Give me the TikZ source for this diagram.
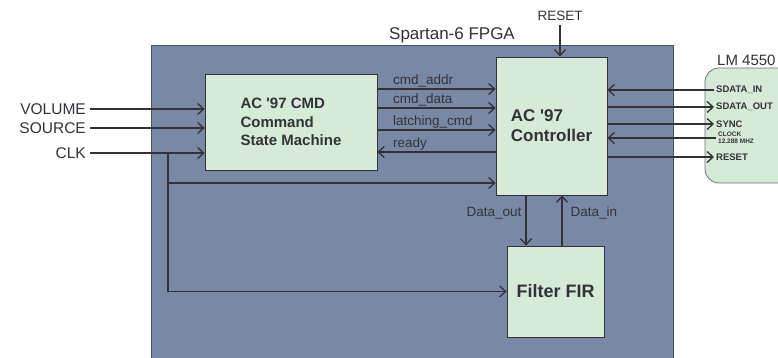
\documentclass[tikz,border=0pt]{standalone}
\usepackage{fontspec}
\setmainfont{Liberation Sans}
\usetikzlibrary{arrows.meta}
\definecolor{fpgablue}{RGB}{120,137,166}
\definecolor{fpgaedge}{RGB}{72,82,102}
\definecolor{blockgreen}{RGB}{214,234,216}
\definecolor{inkgray}{RGB}{50,50,56}
\newcommand{\blocklabel}[3]{#1 \\ #2 \\ #3}
\newcommand{\pinlabel}[2]{#1 \\ #2}

\begin{document}
\begin{tikzpicture}[x = 1pt, y = -1pt, every node/.style = {inner sep = 0pt, text = inkgray},
	block/.style = {rectangle, draw = inkgray, line width = 0.8pt, fill = blockgreen},
	sig/.style = {draw = inkgray, line width = 1.3pt, -{Straight Barb[length = 6pt, width = 11pt]}},
	siglabel/.style = {font = \fontsize{13.5}{15}\selectfont},
	inlabel/.style = {anchor = east, font = \fontsize{15.5}{17}\selectfont},
	pin/.style = {anchor = west, inner sep = 2pt, font = \fontsize{9.5}{10}\selectfont\bfseries}]

	\useasboundingbox (0, 0) rectangle (778, 358);
	\clip (0, 0) rectangle (778, 358);

	\node (fpga) at (412, 203) [rectangle, draw = fpgaedge, line width = 0.8pt, fill = fpgablue, minimum width = 522pt, minimum height = 316pt] {};
	\node (fpganame) at (452, 35) [font = \fontsize{17}{19}\selectfont] {Spartan-6 FPGA};
	\node (cmd)  at (291, 122) [block, minimum width = 172pt, minimum height = 96pt, align = left, font = \fontsize{15}{18.5}\selectfont\bfseries] {\blocklabel{AC \textquotesingle 97 CMD}{Command}{State Machine}};
	\node (ctrl) at (551.5, 126) [block, minimum width = 111pt, minimum height = 138pt, align = left, font = \fontsize{17}{20}\selectfont\bfseries] {AC \textquotesingle 97 \\ Controller};
	\node (fir)  at (555.5, 291.5) [block, minimum width = 97pt, minimum height = 91pt, font = \fontsize{18}{20}\selectfont\bfseries] {Filter FIR};
	\node (lm)   at (750, 125.5) [block, draw = inkgray!70, rounded corners = 14pt, minimum width = 90pt, minimum height = 115pt] {};
	\node (lmname) at (717, 60) [anchor = west, font = \fontsize{15}{17}\selectfont] {LM 4550};

	\node (volume) at (86, 109) [inlabel] {VOLUME};
	\node (source) at (86, 128) [inlabel] {SOURCE};
	\node (clk)    at (86, 153) [inlabel] {CLK};
	\node (rstin)  at (560, 16) [font = \fontsize{13.5}{15}\selectfont] {RESET};

	\node (sdin)  at (714, 90)  [pin] {SDATA\_IN};
	\node (sdout) at (714, 107) [pin] {SDATA\_OUT};
	\node (sync)  at (714, 124) [pin] {SYNC};
	\node (clock) at (716, 138) [pin, align = left, font = \fontsize{6.5}{7}\selectfont\bfseries] {\pinlabel{CLOCK}{12.288 MHZ}};
	\node (rst)   at (714, 157) [pin] {RESET};

	\coordinate (rowa) at (0, 89);
	\coordinate (rowb) at (0, 108);
	\coordinate (rowc) at (0, 130);
	\coordinate (rowd) at (0, 152);
	\coordinate (clkjoin) at (168, 153);
	\coordinate (clkctl)  at (168, 183);

	\foreach \from in {volume, source, clk}
		\path (\from.east) edge [sig, shorten <= 4pt] (cmd.west |- \from.east);
	\foreach \name/\row in {cmd\_addr/rowa, cmd\_data/rowb, latching\_cmd/rowc}
		\path (cmd.east |- \row) edge [sig] node [siglabel, pos = 0, anchor = base west, xshift = 15pt, yshift = 4pt] {\name} (ctrl.west |- \row);
	\path (ctrl.west |- rowd) edge [sig] node [siglabel, pos = 1, anchor = base west, xshift = 15pt, yshift = 4pt] {ready} (cmd.east |- rowd);

	\path (clkctl) edge [sig] (ctrl.west |- clkctl);
	\draw [sig] (clkjoin) |- (fir.west);

	\path ([xshift = -25.5pt] ctrl.south) edge [sig] node [siglabel, left, pos = 0.35, xshift = -4pt] {Data\_out} ([xshift = -25.5pt] ctrl.south |- fir.north);
	\path ([xshift = 10.5pt] ctrl.south |- fir.north) edge [sig] node [siglabel, right, pos = 0.65, xshift = 8pt] {Data\_in} ([xshift = 10.5pt] ctrl.south);
	\path (rstin.south) edge [sig, shorten <= 4pt] (ctrl.north -| rstin.south);

	\foreach \pin in {sdout, sync, rst}
		\path (ctrl.east |- \pin.west) edge [sig] (\pin.west);
	\foreach \pin in {sdin, clock}
		\path (\pin.west) edge [sig] (ctrl.east |- \pin.west);

\end{tikzpicture}
\end{document}
